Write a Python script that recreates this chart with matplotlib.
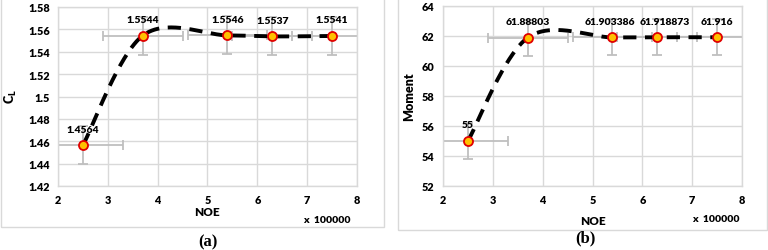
import numpy as np
import matplotlib
matplotlib.use("Agg")
import matplotlib.pyplot as plt
from matplotlib.patches import Rectangle

# ---- data ----
noe = [2.5, 3.7, 5.4, 6.3, 7.5]            # x 100000
cl = [1.4564, 1.5544, 1.5546, 1.5537, 1.5541]
cl_labels = ["1.4564", "1.5544", "1.5546", "1.5537", "1.5541"]
moment = [55, 61.88803, 61.903386, 61.918873, 61.916]
moment_labels = ["55", "61.88803", "61.903386", "61.918873", "61.916"]
cl_yerr = 0.017
moment_yerr = 1.2
x_err = 0.8
cl_ticks = [1.42, 1.44, 1.46, 1.48, 1.5, 1.52, 1.54, 1.56, 1.58]
cl_ticklabels = ["1.42", "1.44", "1.46", "1.48", "1.5", "1.52", "1.54", "1.56", "1.58"]
moment_ticks = [52, 54, 56, 58, 60, 62, 64]
x_ticks = [2, 3, 4, 5, 6, 7, 8]

FONT = "Lato"
WEIGHT = "heavy"
GRID = "#d9d9d9"


def smooth(xs, ys, n=60):
    """Excel-style smoothed line (Catmull-Rom Bezier) through the points."""
    P = np.column_stack([xs, ys]).astype(float)
    m = len(P)
    out = []
    for i in range(m - 1):
        p0 = P[i - 1] if i > 0 else P[i]
        p1 = P[i]
        p2 = P[i + 1]
        p3 = P[i + 2] if i + 2 < m else P[i + 1]
        c1 = p1 + (p2 - p0) / 6.0
        c2 = p2 - (p3 - p1) / 6.0
        t = np.linspace(0, 1, n)[:, None]
        seg = ((1 - t) ** 3) * p1 + 3 * ((1 - t) ** 2) * t * c1 + 3 * (1 - t) * t ** 2 * c2 + t ** 3 * p2
        out.append(seg if i == 0 else seg[1:])
    s = np.vstack(out)
    return s[:, 0], s[:, 1]


fig = plt.figure(figsize=(7.68, 2.51), dpi=100)

# panel borders
for (x0, x1, y1) in [(1, 384, 228), (398, 767, 231)]:
    fig.patches.append(Rectangle((x0 / 768, 1 - y1 / 251), (x1 - x0) / 768, y1 / 251 + 0.05,
                                 transform=fig.transFigure, fill=False,
                                 edgecolor=GRID, linewidth=1.0))


def panel(rect, ys, labels, yerr, yticks, yticklabels, ylabel, ylfs, ylim, tag, tagx, tagy,
          noex, noey, xlx, xly, ylx, ylabel_dx):
    ax = fig.add_axes(rect)
    ax.set_xlim(2, 8)
    ax.set_ylim(*ylim)
    ax.set_xticks(x_ticks)
    ax.set_yticks(yticks)
    ax.set_yticklabels(yticklabels)
    ax.grid(True, color=GRID, linewidth=1.0)
    ax.set_axisbelow(True)
    for s in ax.spines.values():
        s.set_color(GRID)
        s.set_linewidth(1.0)
    ax.tick_params(length=0, labelsize=7.8, pad=6)
    for lab in ax.get_xticklabels() + ax.get_yticklabels():
        lab.set_fontweight(WEIGHT)
        lab.set_family(FONT)

    ax.errorbar(noe, ys, yerr=yerr, xerr=x_err, fmt="none", ecolor="#bfbfbf",
                elinewidth=1.3, capsize=3.5, capthick=1.3, zorder=2, clip_on=True)
    sx, sy = smooth(noe, ys)
    ax.plot(sx, sy, color="black", linewidth=2.8, linestyle=(0, (3.4, 2.2)), zorder=3)
    ax.plot(noe, ys, linestyle="none", marker="o", markersize=6.5,
            markerfacecolor="#ffc000", markeredgecolor="#e00000", markeredgewidth=1.3, zorder=4)
    for x, y, t, dx in zip(noe, ys, labels, ylabel_dx):
        ax.annotate(t, (x, y), xytext=(dx, 16), textcoords="offset pixels",
                    ha="center", va="center", fontsize=7.5, fontweight=WEIGHT, family=FONT)

    fig.text(ylx / 768, 1 - 97 / 251, ylabel, rotation=90, ha="center", va="center",
             fontsize=ylfs, fontweight=WEIGHT, family=FONT)
    fig.text(noex / 768, 1 - noey / 251, "NOE", ha="center", va="center",
             fontsize=8.5, fontweight=WEIGHT, family=FONT)
    fig.text(xlx / 768, 1 - xly / 251, "x\u2002100000", ha="center", va="center",
             fontsize=7.5, fontweight=WEIGHT, family=FONT)
    fig.text(tagx / 768, 1 - tagy / 251, tag, ha="center", va="center",
             fontsize=12, fontweight="bold", family="Liberation Serif")
    return ax


panel([58 / 768, 1 - 187 / 251, 299 / 768, 179 / 251], cl, cl_labels, cl_yerr,
      cl_ticks, cl_ticklabels, r"$\mathregular{C_L}$", 9, (1.42, 1.58), "(a)", 208, 242,
      207, 212, 327, 221, 11, [0, 0, 0, 0, 0])
panel([443 / 768, 1 - 187 / 251, 299 / 768, 180 / 251], moment, moment_labels, moment_yerr,
      moment_ticks, [str(t) for t in moment_ticks], "Moment", 9, (52, 64), "(b)", 585, 238,
      593, 222, 716, 220, 409, [0, 0, -3, 7, 0])

fig.savefig("out.png", dpi=100)
